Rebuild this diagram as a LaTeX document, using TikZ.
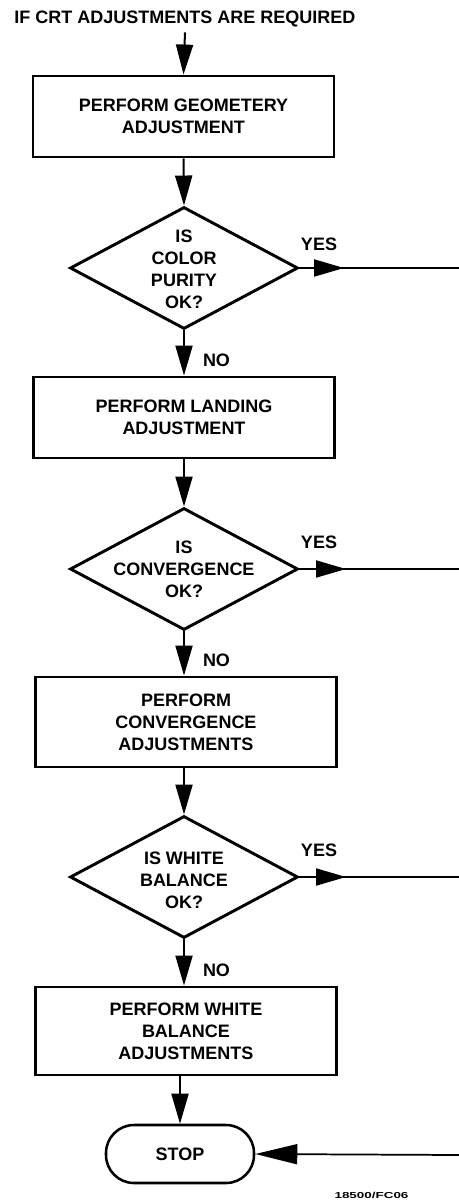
\documentclass[tikz,border=0pt]{standalone}
\usepackage{fontspec}
\setmainfont{Liberation Sans}
\usetikzlibrary{arrows.meta,shapes.geometric}
\tikzset{
	txt/.style={font=\bfseries\fontsize{13.5}{16.5}\selectfont,align=center,inner sep=0.75pt},
	procbox/.style={txt,draw,line width=2.2pt,minimum width=225.75pt,minimum height=60.75pt},
	decision/.style={draw,diamond,line width=2.2pt,minimum width=171pt,minimum height=91.5pt,inner sep=0pt},
	stopbox/.style={txt,draw,line width=1.9pt,rounded corners=21pt,minimum width=111pt,minimum height=43.5pt},
	flow/.style={line width=1.5pt,-{Triangle[length=22.5pt,width=12.75pt]}},
	bigflow/.style={line width=1.3pt,-{Triangle[length=31.5pt,width=15pt]}},
	yesline/.style={line width=1pt},
	note/.style={font=\bfseries\fontsize{6.5}{7}\selectfont,inner sep=0.75pt}
}
\begin{document}
\begin{tikzpicture}[x=0.75pt,y=0.75pt,yscale=-1,xscale=1]
	\useasboundingbox (0,0) rectangle (459,1203);
	\node [txt,anchor=base,inner sep=3.75pt] (title) at (185,23.5) {IF CRT ADJUSTMENTS ARE REQUIRED};
	\node [procbox] (geom) at (183.5,116.5) {PERFORM GEOMETERY\\ADJUSTMENT};
	\node [decision] (purity) at (184,268) {};
	\node [txt] (purityt) at (184,269) {IS\\COLOR\\PURITY\\OK?};
	\node [procbox] (landing) at (184,417.5) {PERFORM LANDING\\ADJUSTMENT};
	\node [decision] (conv) at (184,569) {};
	\node [txt] (convt) at (184,569) {IS\\CONVERGENCE\\OK?};
	\node [procbox,minimum height=67.5pt] (convadj) at (186,722) {PERFORM\\CONVERGENCE\\ADJUSTMENTS};
	\node [decision] (white) at (184,877) {};
	\node [txt] (whitet) at (184,880) {IS WHITE\\BALANCE\\OK?};
	\node [procbox,minimum height=66pt] (whiteadj) at (186,1031) {PERFORM WHITE\\BALANCE\\ADJUSTMENTS};
	\node [stopbox] (stop) at (180,1154) {STOP};
	\node [txt] (yes1) at (319,244) {YES};
	\node [txt] (yes2) at (319,542) {YES};
	\node [txt] (yes3) at (319,850) {YES};
	\node [txt] (no1) at (216.5,360) {NO};
	\node [txt] (no2) at (216.5,660) {NO};
	\node [txt] (no3) at (216.5,970) {NO};
	\node [note] (fig) at (371.5,1195) {\scalebox{1.55}[1]{18500/FC06}};
	\coordinate (t1) at (344,268);
	\coordinate (r1) at (459,268);
	\coordinate (t2) at (346,569);
	\coordinate (r2) at (459,569);
	\coordinate (t3) at (346,877);
	\coordinate (r3) at (459,877);
	\coordinate (r4) at (459,1155);
	\draw [flow] (title.south) -- (geom.north);
	\draw [flow] (geom.south) -- (purity.north);
	\draw [flow] (purity.south) -- (landing.north);
	\draw [flow] (landing.south) -- (conv.north);
	\draw [flow] (conv.south) -- (convadj.north -| conv.south);
	\draw [flow] (convadj.south -| white.north) -- (white.north);
	\draw [flow] (white.south) -- (whiteadj.north -| white.south);
	\draw [flow] (whiteadj.south -| stop.north) -- (stop.north);
	\draw [yesline] (purity.east) -- (r1);
	\draw [flow] (purity.east) -- (t1);
	\draw [yesline] (conv.east) -- (r2);
	\draw [flow] (conv.east) -- (t2);
	\draw [yesline] (white.east) -- (r3);
	\draw [flow] (white.east) -- (t3);
	\draw [bigflow] (r4) -- (stop.east);
\end{tikzpicture}
\end{document}
